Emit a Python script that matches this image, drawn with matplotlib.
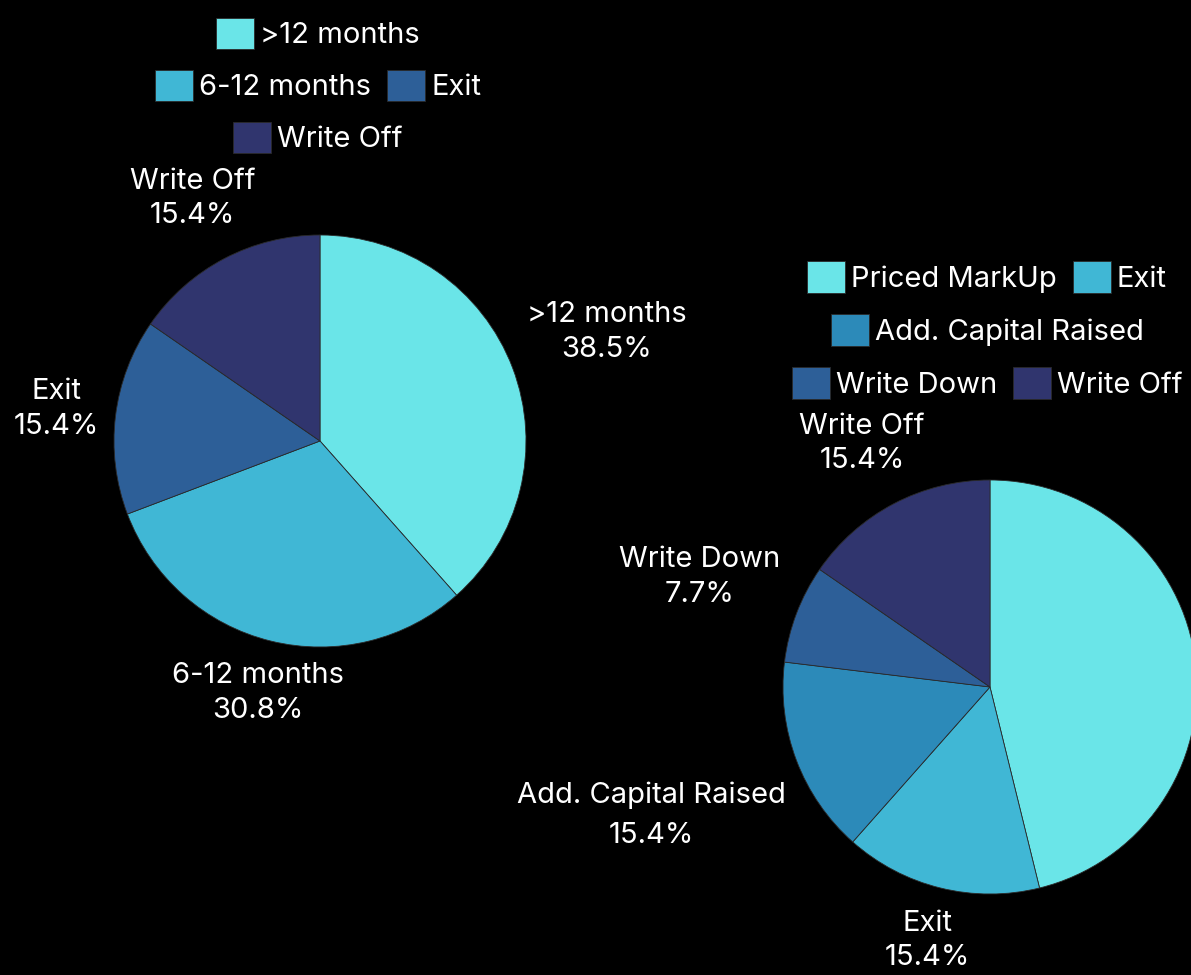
import numpy as np
import matplotlib
matplotlib.use("Agg")
import matplotlib.pyplot as plt

plt.rcParams["font.family"] = ["Inter", "DejaVu Sans"]

# left pie: time to markup
left_labels = [">12 months", "6-12 months", "Exit", "Write Off"]
left_values = [5, 4, 2, 2]
left_colors = ["#6ae5e8", "#40b7d5", "#2d5f98", "#30356e"]
left_dist = [1.49, 1.26, 1.29, 1.33]
left_rows = [[0], [1, 2], [3]]

# right pie: outcome (the Priced MarkUp label falls outside the picture)
right_labels = ["Priced MarkUp", "Exit", "Add. Capital Raised", "Write Down", "Write Off"]
right_values = [6, 2, 2, 1, 2]
right_colors = ["#6ae5e8", "#40b7d5", "#2c8ab9", "#2d5f98", "#30356e"]
right_dist = [None, 1.26, 1.75, 1.50, 1.33]
right_rows = [[0, 1], [2], [3, 4]]

W, H = 1191, 975
FS = 21
PX = FS * 100 / 72  # font size in pixels

fig = plt.figure(figsize=(W / 100, H / 100), dpi=100)
fig.patch.set_facecolor("black")


def draw_pie(cx, cy, r, labels, values, colors, dists, rows, leg_x, leg_y0, leg_dy):
    ax = fig.add_axes([(cx - r) / W, (H - cy - r) / H, 2 * r / W, 2 * r / H])
    ax.set_facecolor("black")
    wedges, _ = ax.pie(values, colors=colors, startangle=90, counterclock=False,
                       radius=1, wedgeprops=dict(edgecolor="#2a2a2a", linewidth=0.6))
    ax.set_xlim(-1, 1)
    ax.set_ylim(-1, 1)
    ax.set_aspect("auto")
    ax.axis("off")

    total = sum(values)
    cum = 0
    for lab, v, d in zip(labels, values, dists):
        mid = 90 - 360 * (cum + v / 2) / total
        cum += v
        if d is None:
            continue
        th = np.deg2rad(mid)
        pct = f"{100 * v / total:.1f}%"
        ls = 1.6 if len(lab) > 15 else 1.35
        ax.text(d * np.cos(th), d * np.sin(th), f"{lab}\n{pct}", color="white",
                fontsize=FS, ha="center", va="center", linespacing=ls, clip_on=False)

    for i, row in enumerate(rows):
        leg = fig.legend([wedges[j] for j in row], [labels[j] for j in row],
                         loc="center", bbox_to_anchor=(leg_x / W, 1 - (leg_y0 + i * leg_dy) / H),
                         ncol=len(row), frameon=False, fontsize=FS, labelcolor="white",
                         handlelength=38 / PX, handleheight=38 / PX, handletextpad=6 / PX,
                         columnspacing=16 / PX, borderpad=0, borderaxespad=0)
        for h in leg.legend_handles:
            h.set_linewidth(0.6)
            h.set_edgecolor("#2a2a2a")


draw_pie(320, 441, 206, left_labels, left_values, left_colors, left_dist,
         left_rows, 318, 33.5, 52)
draw_pie(990, 687, 207, right_labels, right_values, right_colors, right_dist,
         right_rows, 987, 277, 53)

fig.savefig("out.png", dpi=100, facecolor="black")
